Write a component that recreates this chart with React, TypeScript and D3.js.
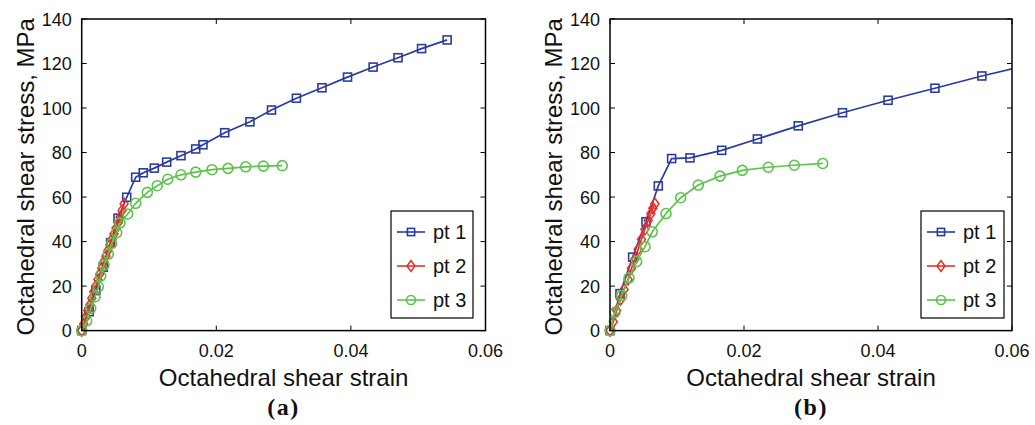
import React from "react";
import * as d3 from "d3";

// ---------- data ----------
const xTicks = [0, 0.02, 0.04, 0.06];
const xTickLabels = ["0", "0.02", "0.04", "0.06"];
const yTicks = [0, 20, 40, 60, 80, 100, 120, 140];
const seriesNames = ["pt 1", "pt 2", "pt 3"];

// panel (a)
const aPt1Strain = [0, 0.0011, 0.0021, 0.0032, 0.0043, 0.0054, 0.00669, 0.00802, 0.00915, 0.01079, 0.01263, 0.01475, 0.01694, 0.01802, 0.02125, 0.0250, 0.0282, 0.0319, 0.0357, 0.0395, 0.0433, 0.0470, 0.0505, 0.0543];
const aPt1Stress = [0, 8.5, 18, 28.5, 39.5, 50.5, 59.9, 68.9, 70.9, 73.0, 75.7, 78.6, 81.6, 83.5, 88.9, 93.8, 99.1, 104.4, 109.1, 113.9, 118.4, 122.6, 126.7, 130.6];
const aPt2Strain = [0, 0.0003, 0.0006, 0.0009, 0.0012, 0.0015, 0.0018, 0.0021, 0.0024, 0.0027, 0.003, 0.0033, 0.0036, 0.0039, 0.0042, 0.0045, 0.0048, 0.0051, 0.0054, 0.0057, 0.006, 0.0063];
const aPt2Stress = [0, 3, 6, 9, 11.5, 14.5, 17.5, 20, 23, 25.5, 28, 31, 33.5, 36, 38.5, 41, 43.5, 46, 48.5, 51, 54, 57];
const aPt3Strain = [0, 0.00074, 0.00134, 0.00198, 0.00247, 0.00282, 0.00331, 0.00395, 0.00446, 0.0052, 0.00569, 0.00683, 0.00802, 0.00975, 0.01123, 0.01278, 0.01475, 0.01694, 0.01936, 0.02174, 0.02437, 0.0270, 0.0298];
const aPt3Stress = [0, 4.4, 10.0, 15.2, 19.7, 24.5, 29.4, 34.4, 39.2, 44.0, 48.4, 52.4, 57.2, 62.1, 65.1, 68.0, 70.0, 71.2, 72.3, 72.9, 73.6, 73.9, 74.1];

// panel (b)
const bPt1Strain = [0, 0.00149, 0.00338, 0.00537, 0.00721, 0.0092, 0.01194, 0.01667, 0.0220, 0.0281, 0.0347, 0.0415, 0.0485, 0.0555, 0.0625];
const bPt1Stress = [0, 16.6, 33.0, 48.9, 65.0, 77.3, 77.6, 81.0, 86.1, 92.0, 97.9, 103.5, 108.9, 114.4, 119.4];
const bPt2Strain = [0, 0.0005, 0.001, 0.0016, 0.0021, 0.0027, 0.0032, 0.0037, 0.0042, 0.0047, 0.0052, 0.0057, 0.0061, 0.0064, 0.0067];
const bPt2Stress = [0, 4, 9, 14, 18.5, 23, 28, 32, 36.5, 41, 45.5, 49.5, 52.5, 55, 57];
const bPt3Strain = [0, 0.00075, 0.00174, 0.00284, 0.00398, 0.00522, 0.00631, 0.00836, 0.01055, 0.01318, 0.01642, 0.01975, 0.02363, 0.0275, 0.03175];
const bPt3Stress = [0, 8.2, 15.8, 23.7, 31.0, 37.7, 44.4, 52.6, 59.7, 65.4, 69.4, 72.0, 73.4, 74.3, 75.1];

const COLORS = ["#2b3c9f", "#e4302a", "#5cc34b"];
const FONT = "'Liberation Sans', Arial, Helvetica, sans-serif";

type Series = { xs: number[]; ys: number[] };

function Marker({ kind, x, y, color, small }: { kind: number; x: number; y: number; color: string; small?: boolean }) {
  const s = small ? 3.6 : 4;
  if (kind === 0) return <rect x={x - s} y={y - s} width={2 * s} height={2 * s} fill="none" stroke={color} strokeWidth={1.6} />;
  if (kind === 1)
    return <path d={`M${x},${y - 5.5}L${x + 4},${y}L${x},${y + 5.5}L${x - 4},${y}Z`} fill="none" stroke={color} strokeWidth={1.5} />;
  return <circle cx={x} cy={y} r={small ? 4.5 : 5} fill="none" stroke={color} strokeWidth={1.6} />;
}

function Panel({ id, left, right, series, label, legendLeft, legendRight }: {
  id: string; left: number; right: number; series: Series[]; label: string; legendLeft: number; legendRight: number;
}) {
  const top = 19;
  const bottom = 330.6;
  const x = d3.scaleLinear().domain([0, 0.06]).range([left, right]);
  const y = d3.scaleLinear().domain([0, 140]).range([bottom, top]);
  const cx = (left + right) / 2;
  const legTop = 211;
  const legBottom = 318;
  const rowYs = [232, 266, 300];
  return (
    <g>
      <defs>
        <clipPath id={`clip-${id}`}>
          <rect x={left - 8} y={top - 8} width={right - left + 8} height={bottom - top + 16} />
        </clipPath>
      </defs>
      <rect x={left} y={top} width={right - left} height={bottom - top} fill="white" />
      {xTicks.map((t, i) => (
        <g key={"xt" + i}>
          <line x1={x(t)} x2={x(t)} y1={bottom} y2={bottom - 5} stroke="black" strokeWidth={1} />
          <line x1={x(t)} x2={x(t)} y1={top} y2={top + 5} stroke="black" strokeWidth={1} />
          <text x={x(t)} y={357} textAnchor="middle" fontSize={18} fontFamily={FONT} fill="#111">{xTickLabels[i]}</text>
        </g>
      ))}
      {yTicks.map((t, i) => (
        <g key={"yt" + i}>
          <line x1={left} x2={left + 5} y1={y(t)} y2={y(t)} stroke="black" strokeWidth={1} />
          <line x1={right} x2={right - 5} y1={y(t)} y2={y(t)} stroke="black" strokeWidth={1} />
          <text x={left - 10} y={y(t) + 6.5} textAnchor="end" fontSize={18} fontFamily={FONT} fill="#111">{t}</text>
        </g>
      ))}
      <g clipPath={`url(#clip-${id})`}>
        {series.map((s, k) => {
          const pts = s.xs.map((v, i) => [x(v), y(s.ys[i])] as [number, number]);
          return (
            <g key={"s" + k}>
              <path d={d3.line()(pts) || ""} fill="none" stroke={COLORS[k]} strokeWidth={1.7} />
              {pts.map((p, i) => (
                <Marker key={i} kind={k} x={p[0]} y={p[1]} color={COLORS[k]} />
              ))}
            </g>
          );
        })}
      </g>
      <rect x={left} y={top} width={right - left} height={bottom - top} fill="none" stroke="black" strokeWidth={1.5} />
      <rect x={legendLeft} y={legTop} width={legendRight - legendLeft} height={legBottom - legTop} fill="white" stroke="black" strokeWidth={1.2} />
      {seriesNames.map((n, k) => (
        <g key={"lg" + k}>
          <line x1={legendLeft + 6} x2={legendLeft + 34} y1={rowYs[k]} y2={rowYs[k]} stroke={COLORS[k]} strokeWidth={1.6} />
          <Marker kind={k} x={legendLeft + 20} y={rowYs[k]} color={COLORS[k]} small />
          <text x={legendLeft + 42} y={rowYs[k] + 7} fontSize={20} fontFamily={FONT} fill="#111">{n}</text>
        </g>
      ))}
      <text x={cx} y={386} textAnchor="middle" fontSize={24} fontFamily={FONT} fill="#111">Octahedral shear strain</text>
      <text transform={`translate(${left - 48},${(top + bottom) / 2 + 2}) rotate(-90)`} textAnchor="middle" fontSize={24} fontFamily={FONT} fill="#111">
        Octahedral shear stress, MPa
      </text>
      <text x={cx} y={415} textAnchor="middle" fontSize={24} fontWeight="bold" letterSpacing={1.5} fontFamily="'Liberation Serif', 'Times New Roman', serif" fill="#111">{label}</text>
    </g>
  );
}

export default function App() {
  const a: Series[] = [
    { xs: aPt1Strain, ys: aPt1Stress },
    { xs: aPt2Strain, ys: aPt2Stress },
    { xs: aPt3Strain, ys: aPt3Stress },
  ];
  const b: Series[] = [
    { xs: bPt1Strain, ys: bPt1Stress },
    { xs: bPt2Strain, ys: bPt2Stress },
    { xs: bPt3Strain, ys: bPt3Stress },
  ];
  return (
    <svg width={1035} height={425} style={{ position: "absolute", left: 0, top: 0, background: "white" }}>
      <rect width={1035} height={425} fill="white" />
      <Panel id="a" left={81.7} right={485.5} series={a} label="(a)" legendLeft={391} legendRight={473} />
      <Panel id="b" left={610} right={1012} series={b} label="(b)" legendLeft={921} legendRight={1004} />
    </svg>
  );
}
